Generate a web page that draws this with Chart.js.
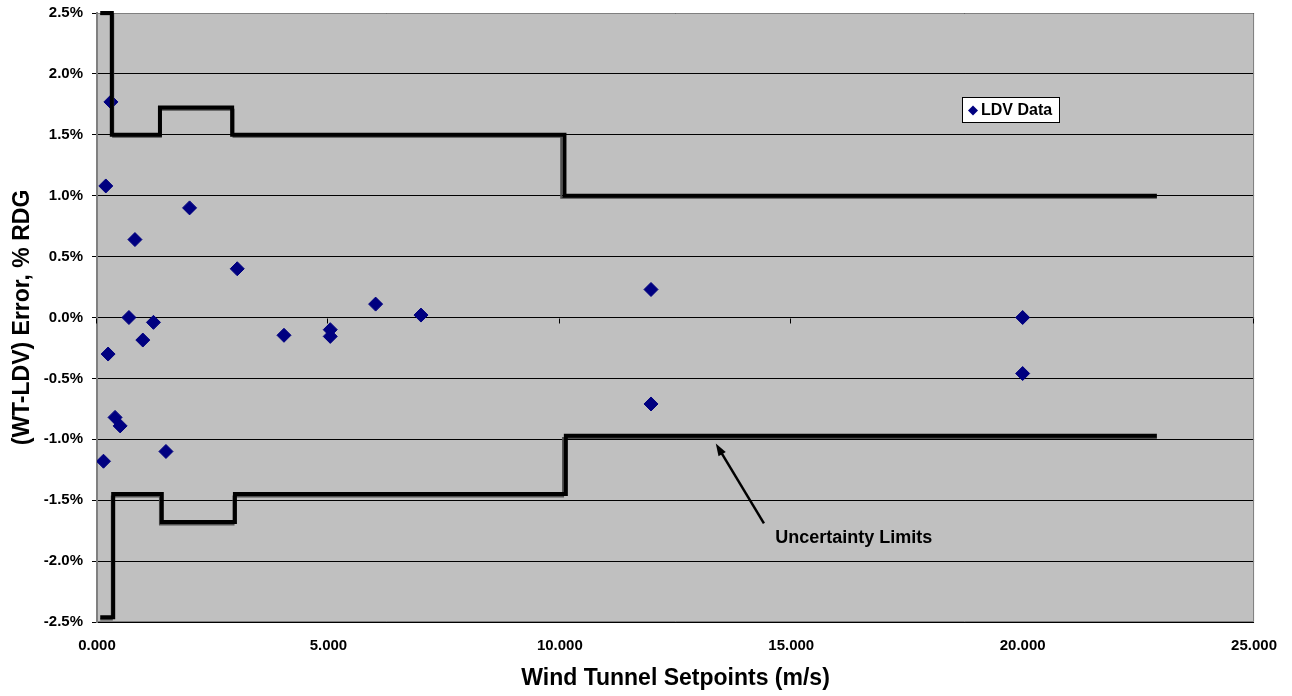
<!DOCTYPE html>
<html>
<head>
<meta charset="utf-8">
<script src="https://cdn.jsdelivr.net/npm/chart.js@4.4.1/dist/chart.umd.min.js"></script>
<style>
html, body { margin: 0; padding: 0; background: #fff; }
#wrap { width: 1292px; height: 696px; }
</style>
</head>
<body>
<div id="wrap"><canvas id="errChart" width="1292" height="696"></canvas></div>
<script>
// LDV data: wind tunnel setpoint (m/s) vs (WT-LDV) error in % of reading
const setpoints = [0.14, 0.19, 0.24, 0.30, 0.39, 0.50, 0.69, 0.82, 0.99, 1.22, 1.49, 2.00, 3.03, 4.04, 5.04, 5.04, 6.02, 7.00, 11.97, 11.97, 20.00, 20.00];
const errors    = [-1.18, 1.08, -0.30, 1.77, -0.82, -0.89, 0.00, 0.64, -0.185, -0.04, -1.10, 0.90, 0.40, -0.146, -0.10, -0.155, 0.11, 0.02, 0.23, -0.71, 0.00, -0.46];

// uncertainty limits (step lines), black series and the grey one under it
const upperX = [0.07, 0.32, 0.32, 1.36, 1.36, 2.92, 2.92, 10.10, 10.10, 22.90];
const upperY = [2.50, 2.50, 1.50, 1.50, 1.725, 1.725, 1.50, 1.50, 1.00, 1.00];
const upper2X = [0.07, 0.35, 0.35, 1.38, 1.38, 2.95, 2.95, 10.03, 10.03, 22.90];
const upper2Y = [2.49, 2.49, 1.483, 1.483, 1.705, 1.705, 1.483, 1.483, 0.983, 0.983];
const lowerX = [0.07, 0.35, 0.35, 1.40, 1.40, 2.98, 2.98, 10.13, 10.13, 22.90];
const lowerY = [-2.46, -2.46, -1.45, -1.45, -1.68, -1.68, -1.45, -1.45, -0.97, -0.97];
const lower2X = [0.07, 0.32, 0.32, 1.36, 1.36, 2.95, 2.95, 10.07, 10.07, 22.90];
const lower2Y = [-2.48, -2.48, -1.47, -1.47, -1.70, -1.70, -1.47, -1.47, -0.99, -0.99];

const xTicks = [0, 5, 10, 15, 20, 25];

function toPts(xs, ys) {
    return xs.map((x, i) => ({ x: x, y: ys[i] }));
}

// grey plot area
const plotBg = {
    id: 'plotBg',
    beforeDraw(chart) {
        const { ctx, chartArea: a } = chart;
        ctx.save();
        ctx.fillStyle = '#C0C0C0';
        ctx.fillRect(a.left, a.top, a.right - a.left, a.bottom - a.top);
        ctx.restore();
    }
};

// frame + x tick marks sitting on the zero line (Excel style)
const frame = {
    id: 'frame',
    beforeDatasetsDraw(chart) {
        const { ctx, chartArea: a, scales } = chart;
        ctx.save();
        ctx.strokeStyle = '#808080';
        ctx.lineWidth = 1;
        ctx.beginPath();
        ctx.moveTo(a.left, a.top + 0.5);
        ctx.lineTo(a.right - 0.5, a.top + 0.5);
        ctx.lineTo(a.right - 0.5, a.bottom - 0.5);
        ctx.lineTo(a.left, a.bottom - 0.5);
        ctx.stroke();
        const y0 = Math.round(scales.y.getPixelForValue(0)) + 0.5;
        ctx.strokeStyle = '#000';
        ctx.beginPath();
        xTicks.forEach(v => {
            const px = Math.round(scales.x.getPixelForValue(v)) - 0.5;
            ctx.moveTo(px, y0);
            ctx.lineTo(px, y0 + 5);
        });
        ctx.stroke();
        ctx.restore();
    }
};

// "Uncertainty Limits" note with arrow
const note = {
    id: 'note',
    afterDatasetsDraw(chart) {
        const { ctx, scales } = chart;
        const tipX = scales.x.getPixelForValue(13.37), tipY = scales.y.getPixelForValue(-1.035);
        const tailX = scales.x.getPixelForValue(14.41), tailY = scales.y.getPixelForValue(-1.69);
        ctx.save();
        ctx.strokeStyle = '#000';
        ctx.fillStyle = '#000';
        ctx.lineWidth = 2.5;
        const ang = Math.atan2(tipY - tailY, tipX - tailX);
        ctx.beginPath();
        ctx.moveTo(tailX, tailY);
        ctx.lineTo(tipX - Math.cos(ang) * 8, tipY - Math.sin(ang) * 8);
        ctx.stroke();
        ctx.beginPath();
        ctx.moveTo(tipX, tipY);
        ctx.lineTo(tipX - Math.cos(ang - 0.33) * 13, tipY - Math.sin(ang - 0.33) * 13);
        ctx.lineTo(tipX - Math.cos(ang + 0.33) * 13, tipY - Math.sin(ang + 0.33) * 13);
        ctx.closePath();
        ctx.fill();
        ctx.font = 'bold 18px Arial, "Liberation Sans", sans-serif';
        ctx.textAlign = 'center';
        ctx.textBaseline = 'middle';
        ctx.fillText('Uncertainty Limits', scales.x.getPixelForValue(16.35), scales.y.getPixelForValue(-1.81));
        ctx.restore();
    }
};

// small legend box inside the plot
const ldvLegend = {
    id: 'ldvLegend',
    afterDraw(chart) {
        const { ctx, chartArea: a } = chart;
        const ds = chart.data.datasets[4];
        const bx = a.left + 865, by = a.top + 84, bw = 97, bh = 25;
        ctx.save();
        ctx.fillStyle = '#fff';
        ctx.fillRect(bx, by, bw, bh);
        ctx.strokeStyle = '#000';
        ctx.lineWidth = 1;
        ctx.strokeRect(bx + 0.5, by + 0.5, bw, bh);
        ctx.fillStyle = ds.backgroundColor;
        const mx = bx + 11, my = by + bh / 2 + 1;
        ctx.beginPath();
        ctx.moveTo(mx - 5, my);
        ctx.lineTo(mx, my - 5);
        ctx.lineTo(mx + 5, my);
        ctx.lineTo(mx, my + 5);
        ctx.closePath();
        ctx.fill();
        ctx.fillStyle = '#000';
        ctx.font = 'bold 16px Arial, "Liberation Sans", sans-serif';
        ctx.textBaseline = 'middle';
        ctx.fillText(ds.label, bx + 19, by + bh / 2 + 1);
        ctx.restore();
    }
};

const ctx = document.getElementById('errChart').getContext('2d');
const tickFont = { family: 'Arial, "Liberation Sans", sans-serif', size: 15, weight: 'bold' };

new Chart(ctx, {
    type: 'scatter',
    data: {
        datasets: [
            { label: 'Upper limit', data: toPts(upperX, upperY), showLine: true, borderColor: '#000', borderWidth: 4, pointRadius: 0, tension: 0, clip: false },
            { label: 'Lower limit', data: toPts(lowerX, lowerY), showLine: true, borderColor: '#000', borderWidth: 4, pointRadius: 0, tension: 0, clip: false },
            { label: 'Upper limit 2', data: toPts(upper2X, upper2Y), showLine: true, borderColor: '#505050', borderWidth: 2, pointRadius: 0, tension: 0, clip: false },
            { label: 'Lower limit 2', data: toPts(lower2X, lower2Y), showLine: true, borderColor: '#505050', borderWidth: 2, pointRadius: 0, tension: 0, clip: false },
            {
                label: 'LDV Data',
                data: toPts(setpoints, errors),
                pointStyle: 'rectRot',
                pointRadius: 7,
                borderWidth: 1,
                backgroundColor: '#000080',
                borderColor: '#000080'
            }
        ]
    },
    options: {
        responsive: false,
        animation: false,
        layout: { padding: { left: 0, top: 13, right: 36, bottom: 0 } },
        plugins: {
            legend: { display: false },
            tooltip: { enabled: false }
        },
        scales: {
            x: {
                type: 'linear',
                min: 0,
                max: 25,
                afterBuildTicks: (s) => { s.ticks = xTicks.map(v => ({ value: v })); },
                afterFit: (s) => { s.height = 74; },
                grid: { display: false, drawTicks: false },
                border: { display: false },
                ticks: {
                    color: '#000',
                    font: tickFont,
                    padding: 15,
                    maxRotation: 0,
                    callback: (v) => Number(v).toFixed(3)
                },
                title: {
                    display: true,
                    text: 'Wind Tunnel Setpoints (m/s)',
                    color: '#000',
                    font: { family: 'Arial, "Liberation Sans", sans-serif', size: 23, weight: 'bold' },
                    padding: { top: 0, bottom: 4 }
                }
            },
            y: {
                min: -2.5,
                max: 2.5,
                afterFit: (s) => { s.width = 97; s.paddingTop = 0; s.paddingBottom = 0; },
                grid: { color: '#000', lineWidth: 1, tickLength: 5, drawTicks: true },
                border: { display: true, color: '#808080', width: 2 },
                ticks: {
                    stepSize: 0.5,
                    color: '#000',
                    font: tickFont,
                    padding: 9,
                    callback: (v) => Number(v).toFixed(1) + '%'
                },
                title: {
                    display: true,
                    text: '(WT-LDV) Error, % RDG',
                    color: '#000',
                    font: { family: 'Arial, "Liberation Sans", sans-serif', size: 23, weight: 'bold' },
                    padding: { top: 9, bottom: 0 }
                }
            }
        }
    },
    plugins: [plotBg, frame, note, ldvLegend]
});
</script>
</body>
</html>
